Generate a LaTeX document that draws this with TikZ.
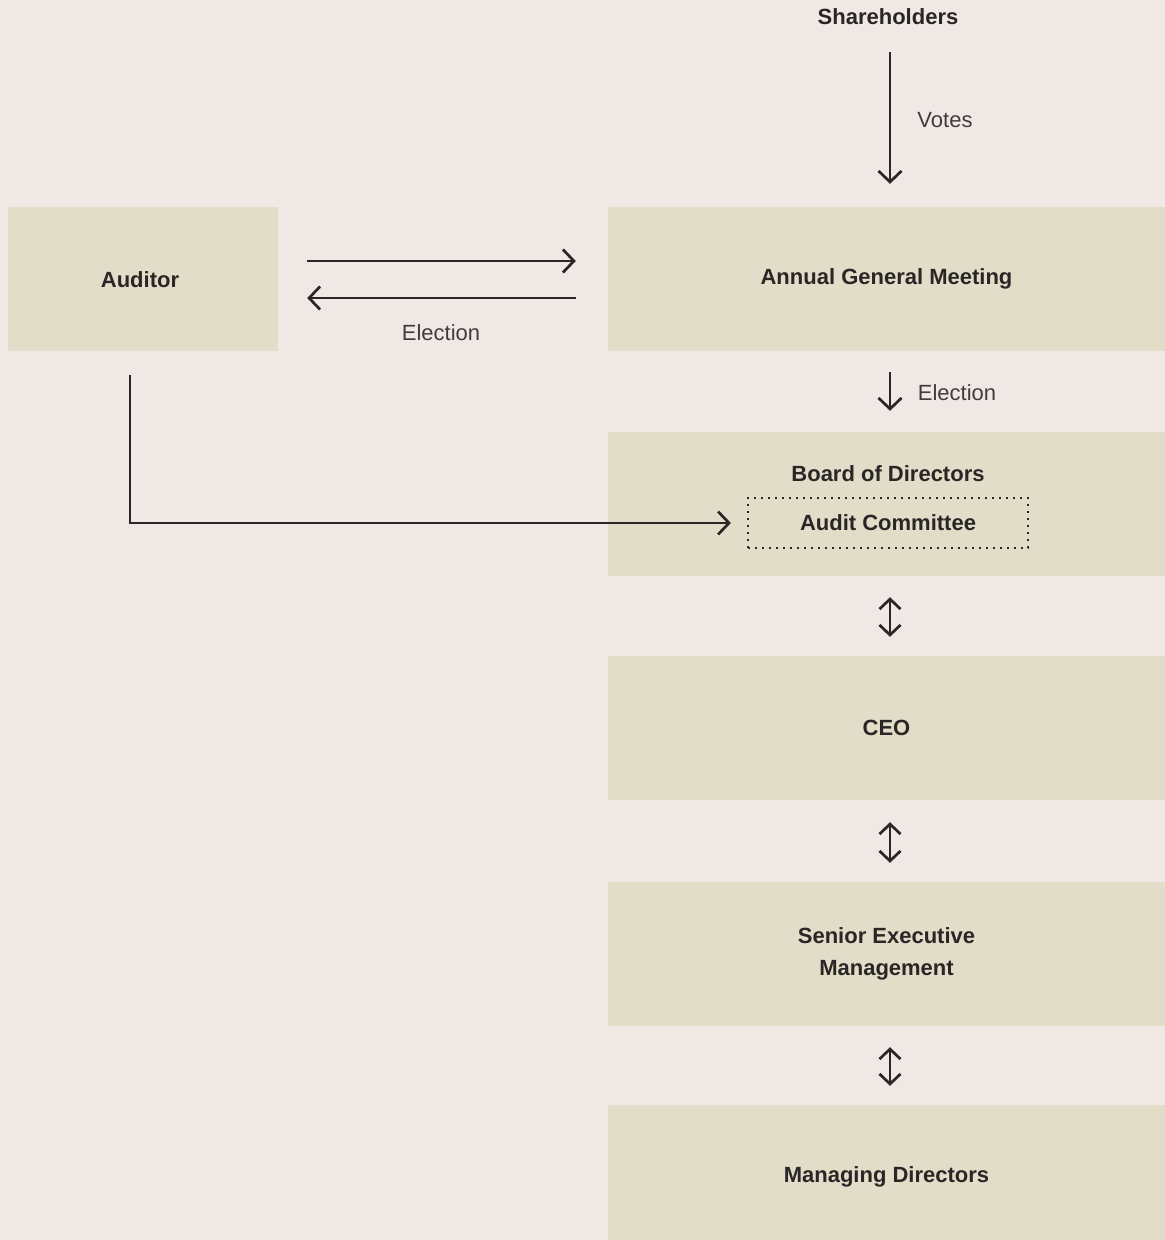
\documentclass[tikz,border=0pt]{standalone}
\usepackage{fontspec}
\setmainfont{Liberation Sans}
\usetikzlibrary{arrows.meta,calc}
\definecolor{bg}{HTML}{F0E8E5}
\definecolor{boxfill}{HTML}{E2DDC8}
\definecolor{ink}{HTML}{2A2626}
\begin{document}
\begin{tikzpicture}[x=1pt,y=-1pt,
  box/.style={fill=boxfill, draw=none, inner sep=0pt, text=ink, font=\fontsize{22}{32}\selectfont\bfseries, align=center},
  ttl/.style={inner sep=0pt, text=ink, font=\fontsize{22}{32}\selectfont\bfseries, align=center},
  lbl/.style={inner sep=0pt, text=ink!90, font=\fontsize{22}{26}\selectfont},
  arr/.style={draw=ink, line width=2.7pt, -{Straight Barb[length=11pt,width=23pt,line width=2.7pt]}},
  darr/.style={draw=ink, line width=2.7pt, {Straight Barb[length=10pt,width=21pt,line width=2.7pt]}-{Straight Barb[length=10pt,width=21pt,line width=2.7pt]}},
  dotbox/.style={draw=ink, line width=2.2pt, dash pattern=on 2pt off 5pt, inner sep=0pt, text=ink, font=\fontsize{22}{32}\selectfont\bfseries}
]
\useasboundingbox (0,0) rectangle (1165,1240);
\fill[bg] (0,0) rectangle (1165,1240);

% nodes
\node[ttl] (sh) at (888,17) {Shareholders};
\node[box, minimum width=270pt, minimum height=144pt] (aud) at (143,279) {};
\node[ttl] (audt) at (140,280) {Auditor};
\node[box, minimum width=557pt, minimum height=144pt] (agm) at (886.5,279) {Annual General Meeting};
\node[box, minimum width=557pt, minimum height=144pt] (board) at (886.5,504) {};
\node[ttl] (boardt) at (888,474) {Board of Directors};
\node[dotbox, minimum width=280pt, minimum height=50pt] (ac) at (888,523) {Audit Committee};
\node[box, minimum width=557pt, minimum height=144pt] (ceo) at (886.5,728) {CEO};
\node[box, minimum width=557pt, minimum height=144pt] (sem) at (886.5,954) {Senior Executive\\Management};
\node[box, minimum width=557pt, minimum height=144pt] (md) at (886.5,1177) {Managing Directors};

% labels
\node[lbl] (votes) at (945,120) {Votes};
\node[lbl] (el1) at (441,333) {Election};
\node[lbl] (el2) at (957,393) {Election};

% connectors
\draw[arr] ([shift={(2,27)}]sh.south) -- ([shift={(3.5,-23)}]agm.north);
\draw[arr] ([shift={(29,-18)}]aud.east) -- ([shift={(-32,-18)}]agm.west);
\draw[arr] ([shift={(-32,19)}]agm.west) -- ([shift={(29,19)}]aud.east);
\draw[arr] ([shift={(3.5,21)}]agm.south) -- ([shift={(3.5,-21)}]board.north);
\draw[arr] ([shift={(-13,24)}]aud.south) |- ([xshift=-16pt]ac.west);
\draw[darr] ([shift={(3.5,21)}]board.south) -- ([shift={(3.5,-19)}]ceo.north);
\draw[darr] ([shift={(3.5,22)}]ceo.south) -- ([shift={(3.5,-19)}]sem.north);
\draw[darr] ([shift={(3.5,21)}]sem.south) -- ([shift={(3.5,-19)}]md.north);
\end{tikzpicture}
\end{document}
